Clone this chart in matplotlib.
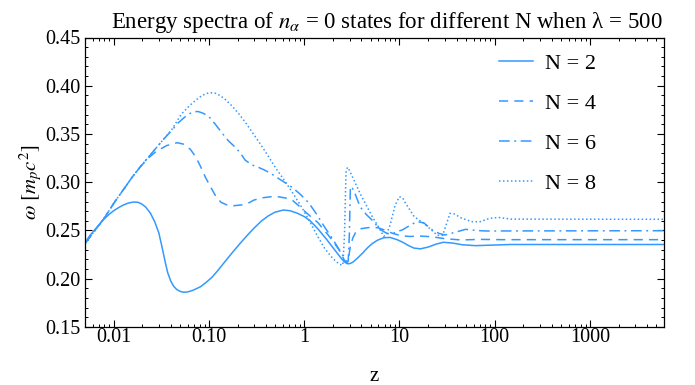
import matplotlib
matplotlib.use("Agg")
import matplotlib.pyplot as plt
from matplotlib.ticker import FixedLocator, MultipleLocator, NullFormatter

plt.rcParams['font.family'] = ['Liberation Serif', 'DejaVu Serif']
plt.rcParams['mathtext.fontset'] = 'stix'

# values (z on log axis, omega in m_p c^2)
z_n2 = [0.005, 0.0056, 0.0063, 0.0071, 0.00785, 0.0089, 0.01, 0.0113, 0.0127, 0.0143,
        0.0162, 0.0179, 0.0197, 0.0217, 0.0243, 0.027, 0.0298, 0.032, 0.035, 0.037,
        0.0398, 0.0428, 0.046, 0.0501, 0.0546, 0.0601, 0.0679, 0.0818, 0.0929, 0.1076,
        0.124, 0.144, 0.174, 0.212, 0.25, 0.298, 0.353, 0.418, 0.494, 0.605,
        0.71, 0.843, 1.0, 1.156, 1.4, 1.73, 2.07, 2.39, 2.64, 2.86,
        3.05, 3.28, 3.6, 4.1, 4.62, 5.2, 5.9, 6.84, 8.0, 9.46,
        11.0, 12.4, 14.2, 16.6, 20, 24.5, 29, 36, 46, 63, 90, 146, 6000]
w_n2 = [0.2375, 0.2445, 0.2505, 0.2565, 0.2615, 0.2665, 0.2705, 0.2738, 0.2765, 0.2785,
        0.2795, 0.2793, 0.2775, 0.2742, 0.268, 0.259, 0.2475, 0.234, 0.216, 0.206,
        0.1975, 0.192, 0.1888, 0.1868, 0.186, 0.1864, 0.188, 0.1918, 0.196, 0.2015,
        0.2085, 0.2165, 0.2265, 0.2365, 0.2445, 0.2525, 0.2595, 0.265, 0.269, 0.2712,
        0.2705, 0.268, 0.2645, 0.26, 0.2515, 0.2405, 0.2305, 0.2225, 0.2175, 0.2155,
        0.2158, 0.2175, 0.221, 0.2265, 0.232, 0.2365, 0.24, 0.2425, 0.2428, 0.2405,
        0.2375, 0.2345, 0.2318, 0.231, 0.2328, 0.236, 0.2378, 0.237, 0.2352, 0.2343, 0.2348, 0.2355, 0.2355]

z_n4 = [0.005, 0.0063, 0.00785, 0.0104, 0.0129, 0.0157, 0.0192, 0.0234, 0.028, 0.036,
        0.0465, 0.054, 0.064, 0.073, 0.082, 0.092, 0.104, 0.115, 0.122, 0.135,
        0.155, 0.183, 0.22, 0.255, 0.298, 0.36, 0.45, 0.55, 0.65, 0.76,
        0.87, 1.07, 1.4, 1.85, 2.33, 2.65, 2.8, 2.95, 3.05, 3.25,
        3.5, 4.0, 5.0, 6.0, 7.0, 8.5, 10.5, 13, 16, 22,
        30, 44.5, 70, 120, 6000]
w_n4 = [0.2365, 0.2495, 0.262, 0.2805, 0.2935, 0.3055, 0.3165, 0.3255, 0.332, 0.338,
        0.341, 0.3395, 0.334, 0.326, 0.316, 0.305, 0.2954, 0.2875, 0.2834, 0.279,
        0.2765, 0.2757, 0.2765, 0.278, 0.2816, 0.2838, 0.285, 0.2848, 0.2835, 0.281,
        0.276, 0.2678, 0.258, 0.2435, 0.23, 0.219, 0.216, 0.224, 0.2332, 0.2425,
        0.2488, 0.252, 0.2533, 0.2528, 0.2505, 0.247, 0.2445, 0.2438, 0.2443, 0.2435,
        0.2415, 0.2402, 0.2408, 0.2405, 0.2405]

z_n6 = [0.005, 0.0063, 0.00785, 0.0104, 0.0129, 0.0157, 0.0192, 0.0234, 0.0282, 0.0337,
        0.041, 0.0475, 0.055, 0.0625, 0.0695, 0.077, 0.087, 0.1, 0.117, 0.138,
        0.16, 0.19, 0.215, 0.24, 0.282, 0.33, 0.382, 0.45, 0.536, 0.62,
        0.74, 0.9, 1.11, 1.35, 1.63, 2.0, 2.35, 2.75, 2.9, 2.98,
        3.06, 3.2, 3.4, 3.86, 4.5, 5.15, 5.8, 6.4, 7.4, 8.4,
        9.5, 10.7, 13, 15.2, 18, 22.2, 26, 30.2, 38, 49.5, 65, 80, 6000]
w_n6 = [0.2365, 0.2495, 0.262, 0.2805, 0.2935, 0.3055, 0.3165, 0.3265, 0.336, 0.345,
        0.354, 0.3615, 0.367, 0.371, 0.3731, 0.3733, 0.3715, 0.368, 0.36, 0.3507,
        0.343, 0.336, 0.33, 0.323, 0.318, 0.3155, 0.3127, 0.309, 0.304, 0.3,
        0.295, 0.288, 0.279, 0.267, 0.2539, 0.241, 0.2295, 0.2185, 0.2177, 0.245,
        0.2954, 0.294, 0.289, 0.2747, 0.2665, 0.2609, 0.255, 0.2505, 0.247, 0.2465,
        0.249, 0.2505, 0.2555, 0.2592, 0.258, 0.2505, 0.247, 0.2453, 0.248, 0.2512, 0.25, 0.2495, 0.2498]

z_n8 = [0.005, 0.0063, 0.00785, 0.0104, 0.0129, 0.0157, 0.0192, 0.0234, 0.0282, 0.0337,
        0.041, 0.0513, 0.062, 0.073, 0.085, 0.1, 0.115, 0.13, 0.146, 0.175,
        0.21, 0.25, 0.298, 0.35, 0.42, 0.5, 0.58, 0.68, 0.78, 0.95,
        1.12, 1.35, 1.65, 2.0, 2.34, 2.55, 2.65, 2.75, 2.85, 3.0,
        3.3, 3.86, 4.5, 5.2, 6.1, 6.84, 7.3, 8.0, 9.0, 10.0,
        10.8, 11.5, 14.3, 18.0, 22, 25, 28.5, 31, 34, 38,
        44.5, 57, 70, 88, 110, 150, 6000]
w_n8 = [0.2365, 0.2495, 0.262, 0.2805, 0.2935, 0.3055, 0.3165, 0.3265, 0.336, 0.345,
        0.355, 0.3705, 0.379, 0.3852, 0.39, 0.3928, 0.3925, 0.39, 0.3865, 0.379,
        0.37, 0.36, 0.349, 0.339, 0.327, 0.315, 0.306, 0.296, 0.287, 0.2735,
        0.261, 0.246, 0.231, 0.221, 0.215, 0.2142, 0.245, 0.31, 0.3155, 0.312,
        0.303, 0.2886, 0.276, 0.2643, 0.253, 0.244, 0.2455, 0.256, 0.276, 0.285,
        0.284, 0.279, 0.2643, 0.2575, 0.25, 0.245, 0.245, 0.256, 0.2678, 0.267,
        0.263, 0.2592, 0.259, 0.2626, 0.2635, 0.2618, 0.2616]

labels = ['N = 2', 'N = 4', 'N = 6', 'N = 8']
x_ticks = [0.01, 0.1, 1, 10, 100, 1000]
x_tick_labels = ['0.01', '0.10', '1', '10', '100', '1000']
y_ticks = [0.15, 0.20, 0.25, 0.30, 0.35, 0.40, 0.45]

color = '#3399ff'

fig = plt.figure(figsize=(6.95, 3.85), dpi=100)
ax = fig.add_axes([85 / 695, 1 - 327 / 385, 579 / 695, 289.5 / 385])

ax.plot(z_n2, w_n2, color=color, lw=1.1, label=labels[0])
ax.plot(z_n4, w_n4, color=color, lw=1.1, dashes=(6, 4), label=labels[1])
ax.plot(z_n6, w_n6, color=color, lw=1.1, dashes=(7, 3, 1.2, 3), label=labels[2])
ax.plot(z_n8, w_n8, color=color, lw=1.1, dashes=(1, 1.6), label=labels[3])

ax.set_xscale('log')
ax.set_xlim(0.005, 6000)
ax.set_ylim(0.15, 0.45)

ax.xaxis.set_major_locator(FixedLocator(x_ticks))
ax.set_xticklabels(x_tick_labels)
ax.xaxis.set_minor_formatter(NullFormatter())
ax.set_yticks(y_ticks)
ax.set_yticklabels(['%.2f' % v for v in y_ticks])
ax.yaxis.set_minor_locator(MultipleLocator(0.01))

ax.tick_params(which='both', direction='in', top=True, right=True, labelsize=14.5)
ax.tick_params(axis='x', which='major', pad=1)
ax.tick_params(which='major', length=5, width=0.8)
ax.tick_params(which='minor', length=2.5, width=0.7)
for s in ax.spines.values():
    s.set_linewidth(0.9)

ax.set_xlabel('z', fontsize=15, labelpad=14)
ax.set_ylabel(r'$\omega\ [m_p c^2]$', fontsize=15, labelpad=0)
ax.set_title(r'Energy spectra of $n_\alpha$ = 0 states for different N when λ = 500',
             fontsize=16.5, pad=7, x=(387 - 85) / 579)

ax.legend(loc='upper left', bbox_to_anchor=(0.689, 1.0), frameon=False, fontsize=16,
          labelspacing=0.88, handlelength=1.5, handletextpad=0.55, borderpad=0.2)

fig.savefig('out.png', dpi=100)
